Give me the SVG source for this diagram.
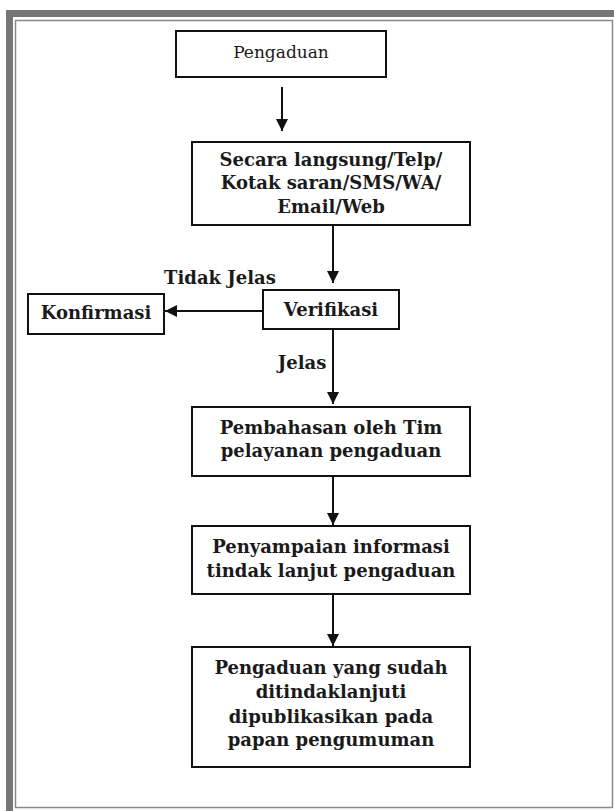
<svg xmlns="http://www.w3.org/2000/svg" width="614" height="811" viewBox="0 0 614 811">
<style>
.box{fill:#fff;stroke:#111;stroke-width:2}
.t{font-family:"DejaVu Serif","Liberation Serif",serif;font-size:18px;font-weight:bold;fill:#1a1a1a;text-anchor:middle}
.t1{font-weight:normal;font-size:17px}
.c{stroke:#111;stroke-width:2;fill:none;marker-end:url(#ah)}
</style>
<defs>
<marker id="ah" viewBox="0 0 10 10" refX="10" refY="5" markerWidth="6" markerHeight="6" orient="auto" markerUnits="strokeWidth">
<path d="M0,0 L10,5 L0,10 z" fill="#111"/>
</marker>
</defs>
<rect width="614" height="811" fill="#fff"/>
<g id="frame">
<rect x="9.5" y="13.5" width="620" height="810" fill="none" stroke="#777474" stroke-width="7"/>
<rect x="15.5" y="20.5" width="597" height="787" fill="none" stroke="#8a8888" stroke-width="1.5"/>
</g>
<g id="connectors">
<line class="c" x1="282" y1="87" x2="282" y2="131"/>
<line class="c" x1="333" y1="225" x2="333" y2="283"/>
<line class="c" x1="263" y1="311" x2="165" y2="311"/>
<line class="c" x1="333" y1="329" x2="333" y2="404"/>
<line class="c" x1="333" y1="476" x2="333" y2="525"/>
<line class="c" x1="333" y1="594" x2="333" y2="646"/>
<text class="t" x="220" y="284">Tidak Jelas</text>
<text class="t" x="302" y="369">Jelas</text>
</g>
<g id="n1">
<rect class="box" x="176" y="31" width="210" height="46"/>
<text class="t t1" x="281" y="58">Pengaduan</text>
</g>
<g id="n2">
<rect class="box" x="192" y="142" width="278" height="83"/>
<text class="t" x="331" y="166">Secara langsung/Telp/</text>
<text class="t" x="331" y="189">Kotak saran/SMS/WA/</text>
<text class="t" x="331" y="213">Email/Web</text>
</g>
<g id="n3">
<rect class="box" x="263" y="290" width="136" height="39"/>
<text class="t" x="331" y="316">Verifikasi</text>
</g>
<g id="n4">
<rect class="box" x="28" y="294" width="136" height="40"/>
<text class="t" x="96" y="319">Konfirmasi</text>
</g>
<g id="n5">
<rect class="box" x="192" y="407" width="278" height="69"/>
<text class="t" x="331" y="434">Pembahasan oleh Tim</text>
<text class="t" x="331" y="457">pelayanan pengaduan</text>
</g>
<g id="n6">
<rect class="box" x="192" y="526" width="278" height="68"/>
<text class="t" x="331" y="553">Penyampaian informasi</text>
<text class="t" x="331" y="577">tindak lanjut pengaduan</text>
</g>
<g id="n7">
<rect class="box" x="192" y="647" width="278" height="120"/>
<text class="t" x="331" y="674">Pengaduan yang sudah</text>
<text class="t" x="331" y="698">ditindaklanjuti</text>
<text class="t" x="331" y="723">dipublikasikan pada</text>
<text class="t" x="331" y="746">papan pengumuman</text>
</g>
</svg>
